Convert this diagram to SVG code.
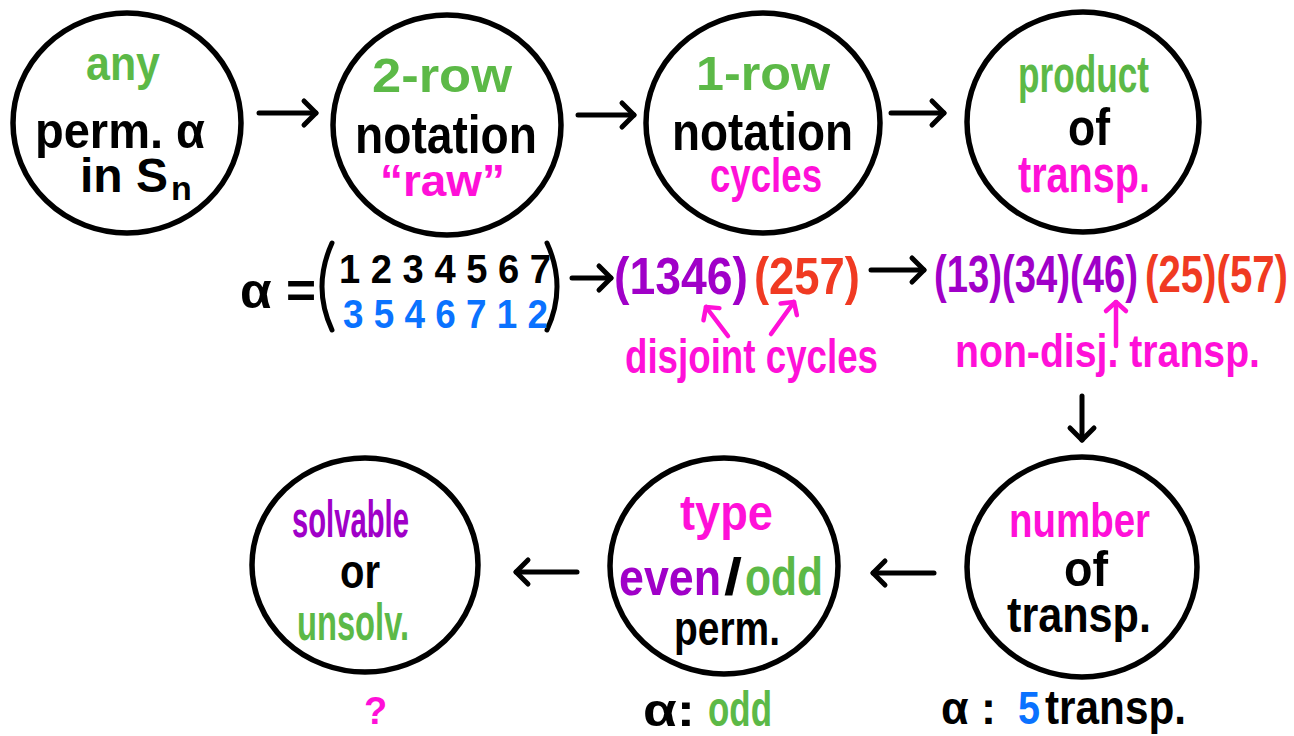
<svg xmlns="http://www.w3.org/2000/svg" width="1294" height="736" viewBox="0 0 1294 736">
<style>
text{font-family:"Liberation Sans","DejaVu Sans",sans-serif;font-weight:bold;text-anchor:start}
.node{fill:none;stroke:#000;stroke-width:5.5}
.g{fill:#5cb947}.k{fill:#000}.m{fill:#ff10d8}.p{fill:#a000c8}.r{fill:#f03a22}.b{fill:#0a72ff}
.conn{stroke:#000;stroke-width:5;fill:none;stroke-linecap:round}
.connm{stroke:#ff10d8;stroke-width:4.5;fill:none;stroke-linecap:round}
.paren{stroke:#000;stroke-width:5;fill:none;stroke-linecap:round}
</style>
<defs>
<marker id="ah" markerUnits="userSpaceOnUse" markerWidth="30" markerHeight="30" refX="14" refY="12" orient="auto" overflow="visible">
<path d="M2,0 L14,12 L2,24" fill="none" stroke="#000" stroke-width="5" stroke-linecap="round" stroke-linejoin="round"/>
</marker>
<marker id="ahm" markerUnits="userSpaceOnUse" markerWidth="30" markerHeight="30" refX="11" refY="10" orient="auto" overflow="visible">
<path d="M2,0 L11,10 L2,20" fill="none" stroke="#ff10d8" stroke-width="4.5" stroke-linecap="round" stroke-linejoin="round"/>
</marker>
</defs>
<rect width="1294" height="736" fill="#fff"/>

<g id="connectors">
<line class="conn" x1="259" y1="113" x2="316" y2="113" marker-end="url(#ah)"/>
<line class="conn" x1="578" y1="115" x2="634" y2="115" marker-end="url(#ah)"/>
<line class="conn" x1="891" y1="113" x2="944" y2="113" marker-end="url(#ah)"/>
<line class="conn" x1="572" y1="278" x2="611" y2="278" marker-end="url(#ah)"/>
<line class="conn" x1="871" y1="270" x2="924" y2="270" marker-end="url(#ah)"/>
<line class="conn" x1="1082" y1="396" x2="1082" y2="440" marker-end="url(#ah)"/>
<line class="conn" x1="934" y1="573" x2="873" y2="573" marker-end="url(#ah)"/>
<line class="conn" x1="577" y1="572" x2="516" y2="572" marker-end="url(#ah)"/>
<line class="connm" x1="728" y1="336" x2="706" y2="307" marker-end="url(#ahm)"/>
<line class="connm" x1="771" y1="334" x2="794" y2="302" marker-end="url(#ahm)"/>
<line class="connm" x1="1116" y1="346" x2="1116" y2="302" marker-end="url(#ahm)"/>
</g>

<g id="n1">
<ellipse class="node" cx="127" cy="123" rx="114" ry="110"/>
<text class="g" x="86" y="80" font-size="48" textLength="74" lengthAdjust="spacingAndGlyphs">any</text>
<text class="k" x="35" y="148" font-size="50" textLength="170" lengthAdjust="spacingAndGlyphs">perm. α</text>
<text class="k" x="80" y="192" font-size="48" textLength="88" lengthAdjust="spacingAndGlyphs">in S</text>
<text class="k" x="171" y="200" font-size="34">n</text>
</g>

<g id="n2">
<ellipse class="node" cx="447" cy="125" rx="114" ry="110"/>
<text class="g" x="372" y="92" font-size="48" textLength="140" lengthAdjust="spacingAndGlyphs">2-row</text>
<text class="k" x="355" y="153" font-size="54" textLength="182" lengthAdjust="spacingAndGlyphs">notation</text>
<text class="m" x="380" y="196" font-size="44" textLength="125" lengthAdjust="spacingAndGlyphs">“raw”</text>
</g>

<g id="n3">
<ellipse class="node" cx="763" cy="123" rx="117" ry="110"/>
<text class="g" x="696" y="90" font-size="48" textLength="134" lengthAdjust="spacingAndGlyphs">1-row</text>
<text class="k" x="672" y="150" font-size="54" textLength="181" lengthAdjust="spacingAndGlyphs">notation</text>
<text class="m" x="710" y="192" font-size="48" textLength="112" lengthAdjust="spacingAndGlyphs">cycles</text>
</g>

<g id="n4">
<ellipse class="node" cx="1083" cy="122" rx="116" ry="110"/>
<text class="g" x="1018" y="92" font-size="52" textLength="131" lengthAdjust="spacingAndGlyphs">product</text>
<text class="k" x="1068" y="145" font-size="52" textLength="42" lengthAdjust="spacingAndGlyphs">of</text>
<text class="m" x="1018" y="192" font-size="52" textLength="132" lengthAdjust="spacingAndGlyphs">transp.</text>
</g>

<g id="matrix">
<text class="k" x="240" y="308" font-size="50" textLength="76" lengthAdjust="spacingAndGlyphs">α =</text>
<path class="paren" d="M332,243 Q312,287 332,330"/>
<path class="paren" d="M547,243 Q567,287 547,330"/>
<text class="k" x="339" y="283" font-size="40" textLength="212" lengthAdjust="spacingAndGlyphs">1 2 3 4 5 6 7</text>
<text class="b" x="343" y="328" font-size="40" textLength="205" lengthAdjust="spacingAndGlyphs">3 5 4 6 7 1 2</text>
</g>

<g id="cycles">
<text class="p" x="614" y="294" font-size="52" textLength="134" lengthAdjust="spacingAndGlyphs">(1346)</text>
<text class="r" x="754" y="294" font-size="52" textLength="106" lengthAdjust="spacingAndGlyphs">(257)</text>
<text class="m" x="625" y="373" font-size="48" textLength="253" lengthAdjust="spacingAndGlyphs">disjoint cycles</text>
</g>

<g id="transpositions">
<text class="p" x="934" y="292" font-size="52" textLength="204" lengthAdjust="spacingAndGlyphs">(13)(34)(46)</text>
<text class="r" x="1145" y="292" font-size="52" textLength="143" lengthAdjust="spacingAndGlyphs">(25)(57)</text>
<text class="m" x="955" y="367" font-size="46" textLength="305" lengthAdjust="spacingAndGlyphs">non-disj. transp.</text>
</g>

<g id="n5">
<ellipse class="node" cx="1082" cy="567" rx="115" ry="110"/>
<text class="m" x="1009" y="537" font-size="48" textLength="141" lengthAdjust="spacingAndGlyphs">number</text>
<text class="k" x="1064" y="586" font-size="50" textLength="44" lengthAdjust="spacingAndGlyphs">of</text>
<text class="k" x="1007" y="632" font-size="50" textLength="144" lengthAdjust="spacingAndGlyphs">transp.</text>
<text class="k" x="941" y="724" font-size="46" textLength="55" lengthAdjust="spacingAndGlyphs">α :</text>
<text class="b" x="1018" y="724" font-size="46" textLength="22" lengthAdjust="spacingAndGlyphs">5</text>
<text class="k" x="1045" y="724" font-size="48" textLength="141" lengthAdjust="spacingAndGlyphs">transp.</text>
</g>

<g id="n6">
<ellipse class="node" cx="724" cy="566" rx="114" ry="108"/>
<text class="m" x="680" y="530" font-size="50" textLength="93" lengthAdjust="spacingAndGlyphs">type</text>
<text class="p" x="619" y="595" font-size="52" textLength="102" lengthAdjust="spacingAndGlyphs">even</text>
<text class="k" x="724" y="595" font-size="52" textLength="18" lengthAdjust="spacingAndGlyphs">/</text>
<text class="g" x="745" y="595" font-size="54" textLength="78" lengthAdjust="spacingAndGlyphs">odd</text>
<text class="k" x="674" y="645" font-size="48" textLength="106" lengthAdjust="spacingAndGlyphs">perm.</text>
<text class="k" x="643" y="726" font-size="46" textLength="52" lengthAdjust="spacingAndGlyphs">α:</text>
<text class="g" x="708" y="726" font-size="50" textLength="64" lengthAdjust="spacingAndGlyphs">odd</text>
</g>

<g id="n7">
<ellipse class="node" cx="365" cy="565" rx="113" ry="107"/>
<text class="p" x="292" y="537" font-size="52" textLength="117" lengthAdjust="spacingAndGlyphs">solvable</text>
<text class="k" x="340" y="588" font-size="48" textLength="40" lengthAdjust="spacingAndGlyphs">or</text>
<text class="g" x="297" y="640" font-size="52" textLength="112" lengthAdjust="spacingAndGlyphs">unsolv.</text>
<text class="m" x="364" y="724" font-size="38">?</text>
</g>
</svg>
